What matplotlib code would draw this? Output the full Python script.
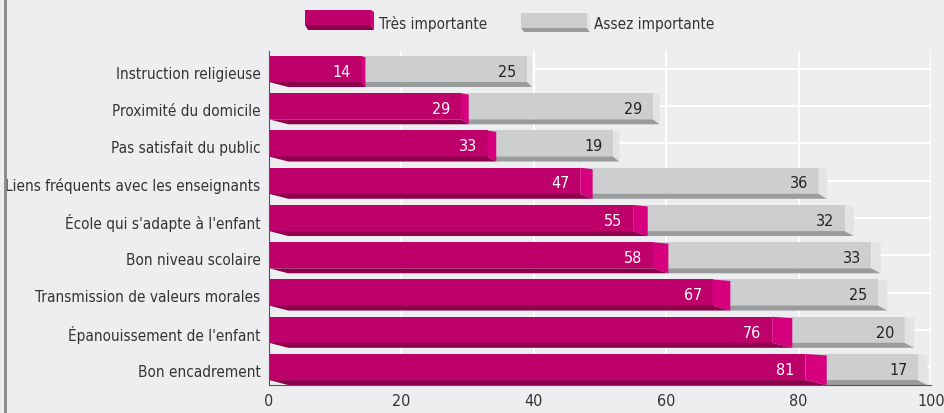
import matplotlib.pyplot as plt
from matplotlib.patches import Polygon, Rectangle
from matplotlib import font_manager

condensed = [f for f in font_manager.fontManager.ttflist
             if "Narrow" in f.name or "Condensed" in f.name or f.stretch in ("condensed", "semi-condensed")]
if any("Liberation Sans Narrow" == f.name for f in condensed):
    fam = ["Liberation Sans Narrow", "DejaVu Sans"]
    stretch = "normal"
elif condensed:
    fam = [condensed[0].name, "DejaVu Sans"]
    stretch = condensed[0].stretch
else:
    fam = ["Roboto", "DejaVu Sans"]
    stretch = "normal"
plt.rcParams['font.family'] = fam
plt.rcParams['font.stretch'] = stretch

categories = ["Instruction religieuse", "Proximité du domicile", "Pas satisfait du public",
              "Liens fréquents avec les enseignants", "École qui s'adapte à l'enfant",
              "Bon niveau scolaire", "Transmission de valeurs morales",
              "Épanouissement de l'enfant", "Bon encadrement"]
tres = [14, 29, 33, 47, 55, 58, 67, 76, 81]
assez = [25, 29, 19, 36, 32, 33, 25, 20, 17]
series_names = ["Très importante", "Assez importante"]

bg = "#edeef0"
mag_front, mag_side, mag_bottom = "#be006b", "#d6007f", "#8c004c"
grey_front, grey_side, grey_bottom = "#cdced0", "#e2e3e5", "#9a9b9d"
fs = 11

fig = plt.figure(figsize=(9.44, 4.14), dpi=100, facecolor=bg)
ax = fig.add_axes([0.285, 0.0676, 0.7013, 0.8068])
ax.set_facecolor(bg)
ax.set_xlim(0, 100)
ax.set_ylim(8.483, -0.483)

# back grid
for x in range(20, 101, 20):
    ax.axvline(x, color="white", lw=1.5, zorder=0)
for i in range(len(categories)):
    ax.axhline(i, color="white", lw=1.5, zorder=0)

hh = 0.35      # half height of the front face
sb = 0.484     # strip bottom offset
for i, (t, a) in enumerate(zip(tres, assez)):
    ft, fb, bb = i - hh, i + hh, i + sb
    end = t + a
    dm = 0.04 * t
    dg = 0.3 + 0.012 * end
    # grey segment
    ax.add_patch(Rectangle((t, ft), a, 2 * hh, color=grey_front, lw=0, zorder=2))
    ax.add_patch(Polygon([(t, fb), (end, fb), (end + dg, bb), (t + dm, bb)],
                         closed=True, color=grey_bottom, lw=0, zorder=2))
    ax.add_patch(Polygon([(end, ft), (end + dg, ft + 0.04), (end + dg, bb), (end, fb)],
                         closed=True, color=grey_side, lw=0, zorder=2))
    # magenta segment
    ax.add_patch(Rectangle((0, ft), t, 2 * hh, color=mag_front, lw=0, zorder=3))
    ax.add_patch(Polygon([(0, fb), (t, fb), (t + dm, bb), (2.9, bb)],
                         closed=True, color=mag_bottom, lw=0, zorder=3))
    ax.add_patch(Polygon([(t, ft), (t + dm, ft + 0.04), (t + dm, bb), (t, fb)],
                         closed=True, color=mag_side, lw=0, zorder=3))
    ax.text(t - 1.6, i + 0.06, str(t), color="white", fontsize=11.5,
            ha="right", va="center", zorder=5)
    ax.text(end - 1.6, i + 0.06, str(a), color="#222222", fontsize=11.5,
            ha="right", va="center", zorder=5)

ax.set_yticks([i + 0.08 for i in range(len(categories))])
ax.set_yticklabels(categories, fontsize=fs, color="#333333")
ax.set_xticks(range(0, 101, 20))
ax.tick_params(axis="x", length=0, pad=6, labelsize=11.5, labelcolor="#333333")
ax.tick_params(axis="y", length=0, pad=6)
for s in ["top", "right"]:
    ax.spines[s].set_visible(False)
ax.spines["left"].set_color("#555555")
ax.spines["bottom"].set_color("#555555")
ax.spines["left"].set_zorder(6)
ax.spines["bottom"].set_zorder(6)

# legend drawn in pixel coordinates of the figure
lg = fig.add_axes([0, 0, 1, 1], facecolor="none")
lg.set_xlim(0, 944)
lg.set_ylim(414, 0)
lg.axis("off")
lg.add_patch(Rectangle((305, 11), 66, 15, color=mag_front, lw=0))
lg.add_patch(Polygon([(305, 26), (371, 26), (374, 31), (308, 31)], closed=True, color=mag_bottom, lw=0))
lg.add_patch(Polygon([(371, 11), (374, 13), (374, 31), (371, 26)], closed=True, color=mag_side, lw=0))
lg.text(379, 24, series_names[0], fontsize=fs, color="#333333", va="center")
lg.add_patch(Rectangle((521, 14), 66, 15, color=grey_front, lw=0))
lg.add_patch(Polygon([(521, 29), (587, 29), (590, 33), (524, 33)], closed=True, color=grey_bottom, lw=0))
lg.add_patch(Polygon([(587, 14), (590, 16), (590, 33), (587, 29)], closed=True, color=grey_side, lw=0))
lg.text(594, 25, series_names[1], fontsize=fs, color="#333333", va="center")
lg.plot([4.5, 4.5], [0, 414], color="#888888", lw=2)

fig.savefig("out.png", dpi=100, facecolor=bg)
